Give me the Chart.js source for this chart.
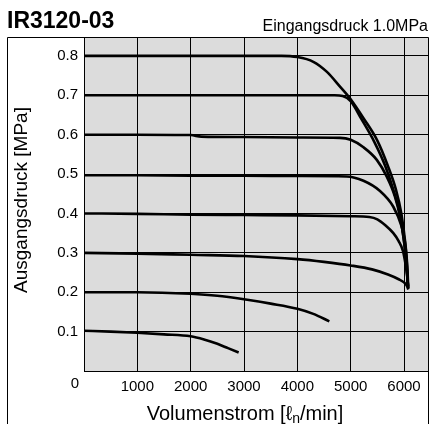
<!DOCTYPE html>
<html>
<head>
<meta charset="utf-8">
<script src="https://cdn.jsdelivr.net/npm/chart.js@4.4.1/dist/chart.umd.min.js"></script>
<style>
  html, body { margin: 0; padding: 0; background: #ffffff; }
  #wrap { width: 431px; height: 424px; position: relative; }
</style>
</head>
<body>
<div id="wrap"><canvas id="chart" width="431" height="424"></canvas></div>
<script>
// Flow characteristics of the regulator at 1.0 MPa inlet pressure
const chartTitle = 'IR3120-03';
const inletNote = 'Eingangsdruck 1.0MPa';
const yAxisTitle = 'Ausgangsdruck [MPa]';
const xTitleMain = 'Volumenstrom [ℓ';
const xTitleSub = 'n';
const xTitleTail = '/min]';

const xTicks = [0, 1000, 2000, 3000, 4000, 5000, 6000];
const yTicks = [0, 0.1, 0.2, 0.3, 0.4, 0.5, 0.6, 0.7, 0.8];

// one flow/pressure pair of arrays per set pressure
const flow08  = [0, 1000, 2000, 3000, 3700, 4000, 4300, 4550, 4800, 5000, 5250, 5500, 5700, 5850, 5950, 6020, 6060, 6080];
const press08 = [0.80, 0.80, 0.80, 0.80, 0.80, 0.797, 0.785, 0.76, 0.722, 0.69, 0.64, 0.585, 0.52, 0.46, 0.40, 0.33, 0.27, 0.21];

const flow07  = [0, 1000, 2000, 3000, 4000, 4700, 4850, 5000, 5200, 5450, 5650, 5800, 5920, 6000, 6050, 6075];
const press07 = [0.70, 0.70, 0.70, 0.70, 0.70, 0.70, 0.698, 0.685, 0.64, 0.58, 0.52, 0.46, 0.40, 0.33, 0.27, 0.215];

const flow06  = [0, 1000, 2000, 2200, 3000, 4000, 4800, 5000, 5240, 5490, 5675, 5830, 5925, 6000, 6045, 6075];
const press06 = [0.60, 0.60, 0.599, 0.595, 0.594, 0.593, 0.592, 0.587, 0.568, 0.536, 0.494, 0.443, 0.392, 0.33, 0.27, 0.215];

const flow05  = [0, 1000, 2000, 3000, 4000, 4925, 5240, 5550, 5800, 5955, 6020, 6050, 6070];
const press05 = [0.497, 0.497, 0.496, 0.496, 0.495, 0.494, 0.483, 0.457, 0.417, 0.367, 0.325, 0.28, 0.22];

const flow04  = [0, 1000, 2000, 3000, 4000, 5000, 5350, 5500, 5650, 5800, 5900, 5980, 6030, 6060, 6080];
const press04 = [0.40, 0.399, 0.397, 0.396, 0.395, 0.393, 0.391, 0.385, 0.37, 0.35, 0.33, 0.305, 0.27, 0.24, 0.21];

const flow03  = [0, 1000, 2000, 3000, 4000, 4500, 5000, 5400, 5700, 5900, 6000, 6060, 6080];
const press03 = [0.30, 0.298, 0.295, 0.292, 0.284, 0.277, 0.268, 0.258, 0.245, 0.233, 0.225, 0.215, 0.207];

const flow02  = [0, 1000, 2000, 2500, 3000, 3500, 4000, 4300, 4600];
const press02 = [0.20, 0.20, 0.196, 0.191, 0.182, 0.171, 0.158, 0.145, 0.126];

const flow01  = [0, 500, 1000, 1500, 2000, 2250, 2500, 2700, 2900];
const press01 = [0.102, 0.10, 0.097, 0.093, 0.088, 0.08, 0.069, 0.058, 0.047];

const curves = [
  [flow08, press08], [flow07, press07], [flow06, press06], [flow05, press05],
  [flow04, press04], [flow03, press03], [flow02, press02], [flow01, press01]
];

const FONT = "'Liberation Sans', Arial, Helvetica, sans-serif";
const PLOT_BG = '#dcdcdc';

const datasets = curves.map(([fx, py]) => ({
  data: fx.map((f, i) => ({ x: f, y: py[i] })),
  borderColor: '#000000',
  borderWidth: 2.6,
  pointRadius: 0,
  fill: false,
  cubicInterpolationMode: 'monotone',
  clip: false
}));

// grey plot field, outer frame and all free texts
const decor = {
  id: 'decor',
  beforeDraw(chart) {
    const { ctx, chartArea: a } = chart;
    ctx.save();
    ctx.fillStyle = PLOT_BG;
    ctx.fillRect(a.left, a.top, a.right - a.left, a.bottom - a.top);
    ctx.restore();
  },
  afterDraw(chart) {
    const { ctx, chartArea: a, scales } = chart;
    ctx.save();
    // frame around the diagram
    ctx.strokeStyle = '#000';
    ctx.lineWidth = 1;
    ctx.beginPath();
    ctx.moveTo(7.5, 424);
    ctx.lineTo(7.5, a.top + 0.5);
    ctx.lineTo(a.right + 0.5, a.top + 0.5);
    ctx.lineTo(a.right + 0.5, 424);
    ctx.stroke();

    ctx.fillStyle = '#000';
    // heading
    ctx.font = 'bold 23px ' + FONT;
    ctx.textAlign = 'left';
    ctx.textBaseline = 'alphabetic';
    ctx.fillText(chartTitle, 7, 28);
    ctx.font = '16px ' + FONT;
    ctx.textAlign = 'right';
    ctx.fillText(inletNote, 428, 31);

    // shared origin label
    ctx.font = '15px ' + FONT;
    ctx.textAlign = 'center';
    ctx.textBaseline = 'middle';
    ctx.fillText('0', scales.x.getPixelForValue(0) - 9, 384);

    // y-axis title
    ctx.save();
    ctx.translate(22, 200);
    ctx.rotate(-Math.PI / 2);
    ctx.font = '19px ' + FONT;
    ctx.textAlign = 'center';
    ctx.textBaseline = 'middle';
    ctx.fillText(yAxisTitle, 0, 0);
    ctx.restore();

    // x-axis title with subscript n
    const big = '20px ' + FONT, small = '14px ' + FONT;
    ctx.textAlign = 'left';
    ctx.textBaseline = 'alphabetic';
    ctx.font = big;
    const w1 = ctx.measureText(xTitleMain).width;
    const w3 = ctx.measureText(xTitleTail).width;
    ctx.font = small;
    const w2 = ctx.measureText(xTitleSub).width;
    const total = w1 + w2 + w3;
    let x0 = 245 - total / 2;
    const base = 420;
    ctx.font = big;
    ctx.fillText(xTitleMain, x0, base);
    ctx.font = small;
    ctx.fillText(xTitleSub, x0 + w1, base + 3);
    ctx.font = big;
    ctx.fillText(xTitleTail, x0 + w1 + w2, base);
    ctx.restore();
  }
};

new Chart(document.getElementById('chart'), {
  type: 'line',
  data: { datasets },
  plugins: [decor],
  options: {
    responsive: false,
    animation: false,
    devicePixelRatio: 1,
    layout: { padding: { left: 0, right: 3, top: 37, bottom: 0 } },
    plugins: { legend: { display: false }, tooltip: { enabled: false }, title: { display: false } },
    scales: {
      x: {
        type: 'linear',
        min: 0,
        max: 6450,
        afterBuildTicks: s => { s.ticks = xTicks.map(v => ({ value: v })); },
        afterFit: s => { s.height = 53; },
        grid: { color: '#000', lineWidth: 1, drawTicks: false },
        border: { color: '#000', width: 1 },
        ticks: {
          font: { family: FONT, size: 15 },
          color: '#000',
          padding: 7,
          maxRotation: 0,
          autoSkip: false,
          callback: v => (v === 0 ? '' : String(v))
        }
      },
      y: {
        type: 'linear',
        min: 0,
        max: 0.848,
        afterBuildTicks: s => { s.ticks = yTicks.map(v => ({ value: v })); },
        afterFit: s => { s.width = 84; },
        grid: { color: '#000', lineWidth: 1, drawTicks: false },
        border: { color: '#000', width: 1 },
        ticks: {
          font: { family: FONT, size: 15 },
          color: '#000',
          padding: 6,
          autoSkip: false,
          callback: v => (v === 0 ? '' : v.toFixed(1))
        }
      }
    }
  }
});
</script>
</body>
</html>
